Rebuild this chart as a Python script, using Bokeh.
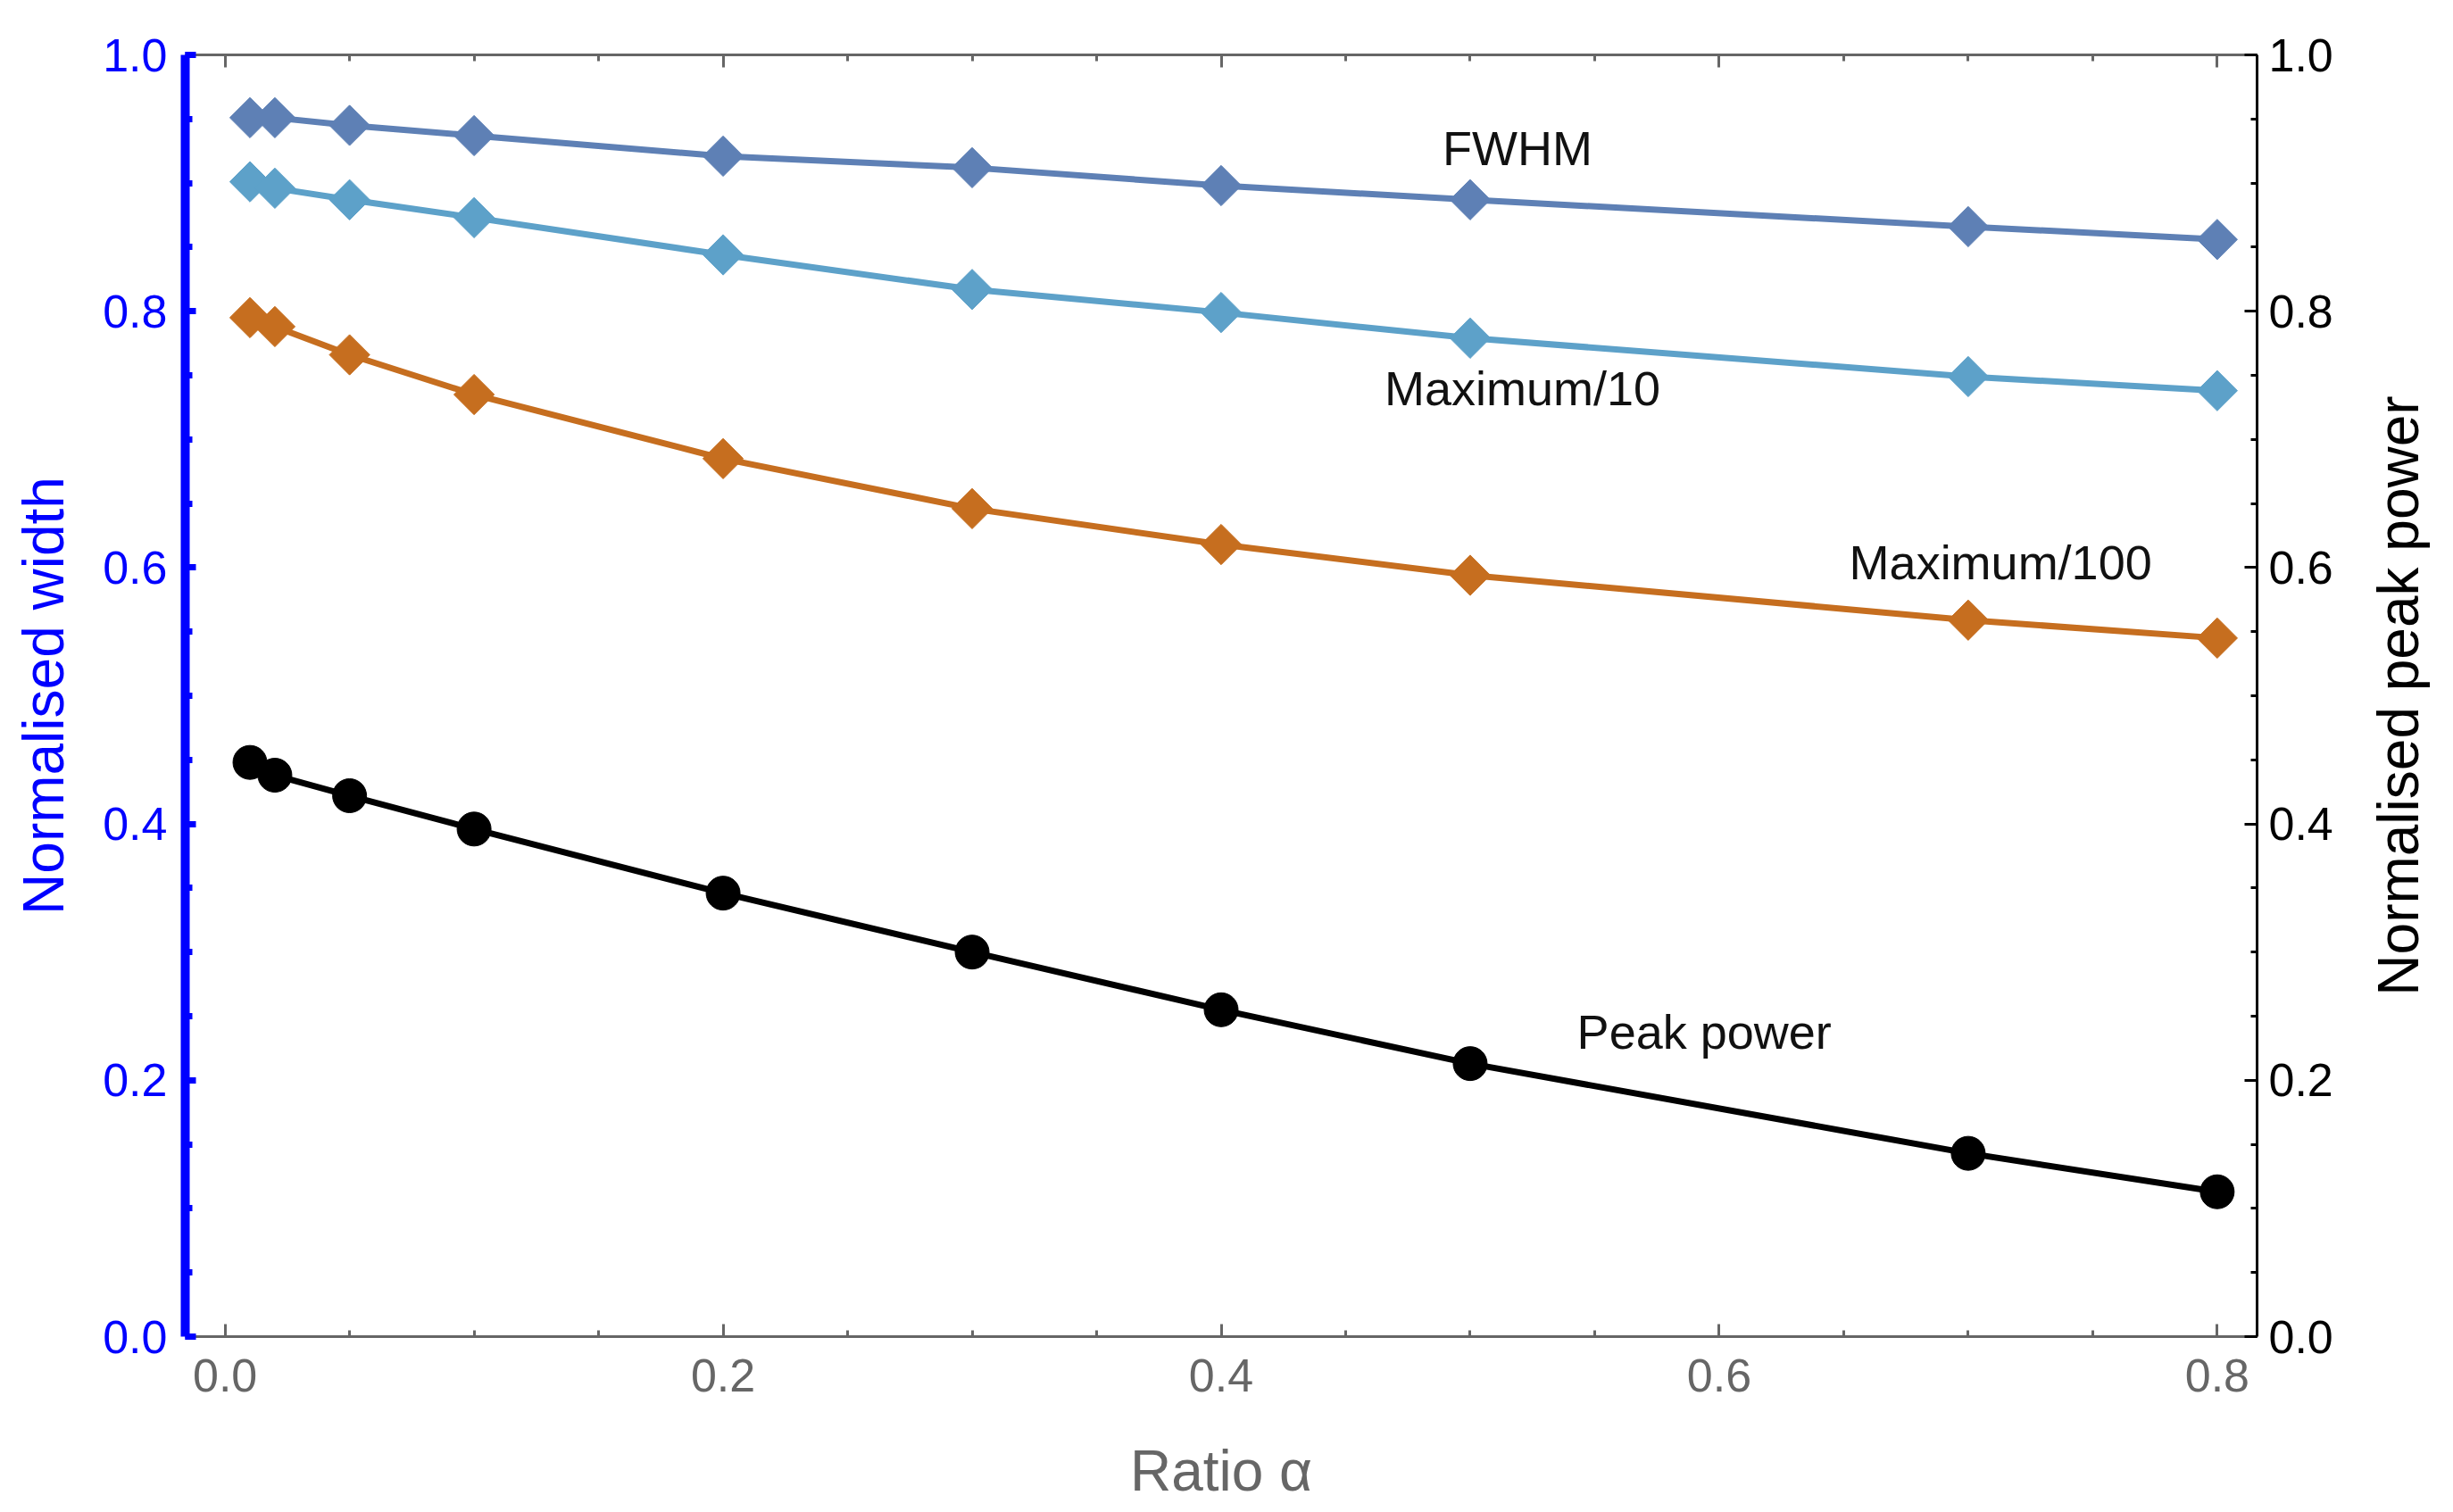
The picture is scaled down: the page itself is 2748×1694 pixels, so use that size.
import math
from bokeh.plotting import figure
from bokeh.layouts import row
from bokeh.models import (ColumnDataSource, LinearAxis, Range1d, FixedTicker,
                          NumeralTickFormatter)
from bokeh.core.properties import value
from bokeh.embed import file_html
from bokeh.resources import INLINE

# data
ratio = [0.01, 0.02, 0.05, 0.1, 0.2, 0.3, 0.4, 0.5, 0.7, 0.8]
fwhm = [0.951, 0.951, 0.945, 0.937, 0.921, 0.912, 0.898, 0.887, 0.866, 0.856]
max_10 = [0.901, 0.896, 0.887, 0.873, 0.844, 0.817, 0.799, 0.779, 0.749, 0.738]
max_100 = [0.795, 0.788, 0.766, 0.735, 0.685, 0.646, 0.618, 0.594, 0.559, 0.545]
peak_power = [0.448, 0.438, 0.422, 0.396, 0.346, 0.300, 0.255, 0.213, 0.143, 0.113]

label_text = ["FWHM", "Maximum/10", "Maximum/100", "Peak power"]
label_x = [0.519, 0.521, 0.713, 0.594]
label_y = [0.927, 0.740, 0.604, 0.238]

major = [0.0, 0.2, 0.4, 0.6, 0.8, 1.0]
minor = [i * 0.05 for i in range(21)]

FONT = "Liberation Sans"
GRAY = "#666666"

p = figure(
    width=2650,
    height=1694,
    x_range=Range1d(-0.016, 0.816),
    y_range=Range1d(0, 1),
    output_backend="svg",
    toolbar_location=None,
    min_border_left=207,
    min_border_top=61,
    min_border_right=122,
    min_border_bottom=197,
)
p.grid.visible = False
p.outline_line_color = None
p.background_fill_color = "white"
p.extra_y_ranges = {"power": Range1d(0, 1)}

# series
series = [
    (fwhm, "#5E80B5"),
    (max_10, "#5DA1C9"),
    (max_100, "#C66E1F"),
]
for ys, col in series:
    src = ColumnDataSource(dict(x=ratio, y=ys))
    p.line("x", "y", source=src, line_color=col, line_width=7)
    p.scatter("x", "y", source=src, marker="square", angle=math.pi / 4,
              size=32, fill_color=col, line_color=col)

pp_src = ColumnDataSource(dict(x=ratio, y=peak_power))
p.line("x", "y", source=pp_src, line_color="black", line_width=7,
       y_range_name="power")
p.scatter("x", "y", source=pp_src, marker="circle", size=38,
          fill_color="black", line_color="black", y_range_name="power")

lab_src = ColumnDataSource(dict(x=label_x, y=label_y, t=label_text))
p.text("x", "y", text="t", source=lab_src, text_font=value(FONT),
       text_font_size="54px", text_align="center", text_baseline="middle",
       text_color="#111111")


def style(ax, color, label_color, tick_color):
    ax.axis_line_color = color
    ax.major_tick_line_color = color
    ax.minor_tick_line_color = color
    ax.major_tick_out = 0
    ax.minor_tick_out = 0
    ax.major_tick_in = 14
    ax.minor_tick_in = 7
    ax.axis_line_width = 3
    ax.major_tick_line_width = 3
    ax.minor_tick_line_width = 3
    ax.major_label_text_font = FONT
    ax.major_label_text_font_size = "52px"
    ax.major_label_text_color = tick_color
    ax.axis_label_text_font = FONT
    ax.axis_label_text_font_size = "64px"
    ax.axis_label_text_font_style = "normal"
    ax.axis_label_text_color = label_color
    ax.formatter = NumeralTickFormatter(format="0.0")


# bottom axis
xa = p.xaxis[0]
xa.ticker = FixedTicker(ticks=major[:-1], minor_ticks=minor)
style(xa, GRAY, GRAY, GRAY)
xa.axis_label = "Ratio α"
xa.major_label_standoff = 25
xa.axis_label_standoff = 50

# left axis (blue, thick)
ya = p.yaxis[0]
ya.ticker = FixedTicker(ticks=major, minor_ticks=minor)
style(ya, "#0000FF", "#0000FF", "#0000FF")
ya.axis_line_width = 10
ya.major_tick_line_width = 7
ya.minor_tick_line_width = 7
ya.major_tick_in = 12
ya.minor_tick_in = 8
ya.axis_label = "Normalised width"
ya.major_label_standoff = 20
ya.axis_label_standoff = 27

# right axis (peak power)
ra = LinearAxis(y_range_name="power",
                ticker=FixedTicker(ticks=major, minor_ticks=minor))
style(ra, "black", "black", "black")
ra.major_label_standoff = 13
p.add_layout(ra, "right")

# top frame with ticks only
ta = LinearAxis(ticker=FixedTicker(ticks=major[:-1], minor_ticks=minor))
style(ta, GRAY, GRAY, GRAY)
ta.major_label_text_color = None
ta.major_label_text_font_size = "1px"
ta.major_label_standoff = 0
p.add_layout(ta, "above")

# narrow strip on the right holding the right axis title (bottom to top)
side = figure(
    width=98,
    height=1694,
    x_range=Range1d(0, 1),
    y_range=Range1d(0, 1),
    output_backend="svg",
    toolbar_location=None,
    min_border_left=0,
    min_border_right=0,
    min_border_top=61,
    min_border_bottom=197,
)
side.axis.visible = False
side.grid.visible = False
side.outline_line_color = None
side.text(x=[0.37], y=[0.5], text=["Normalised peak power"],
          angle=math.pi / 2, text_font=value(FONT), text_font_size="64px",
          text_align="center", text_baseline="middle", text_color="black")

layout = row(p, side, spacing=0)
open("out.html", "w").write(file_html(layout, INLINE))
